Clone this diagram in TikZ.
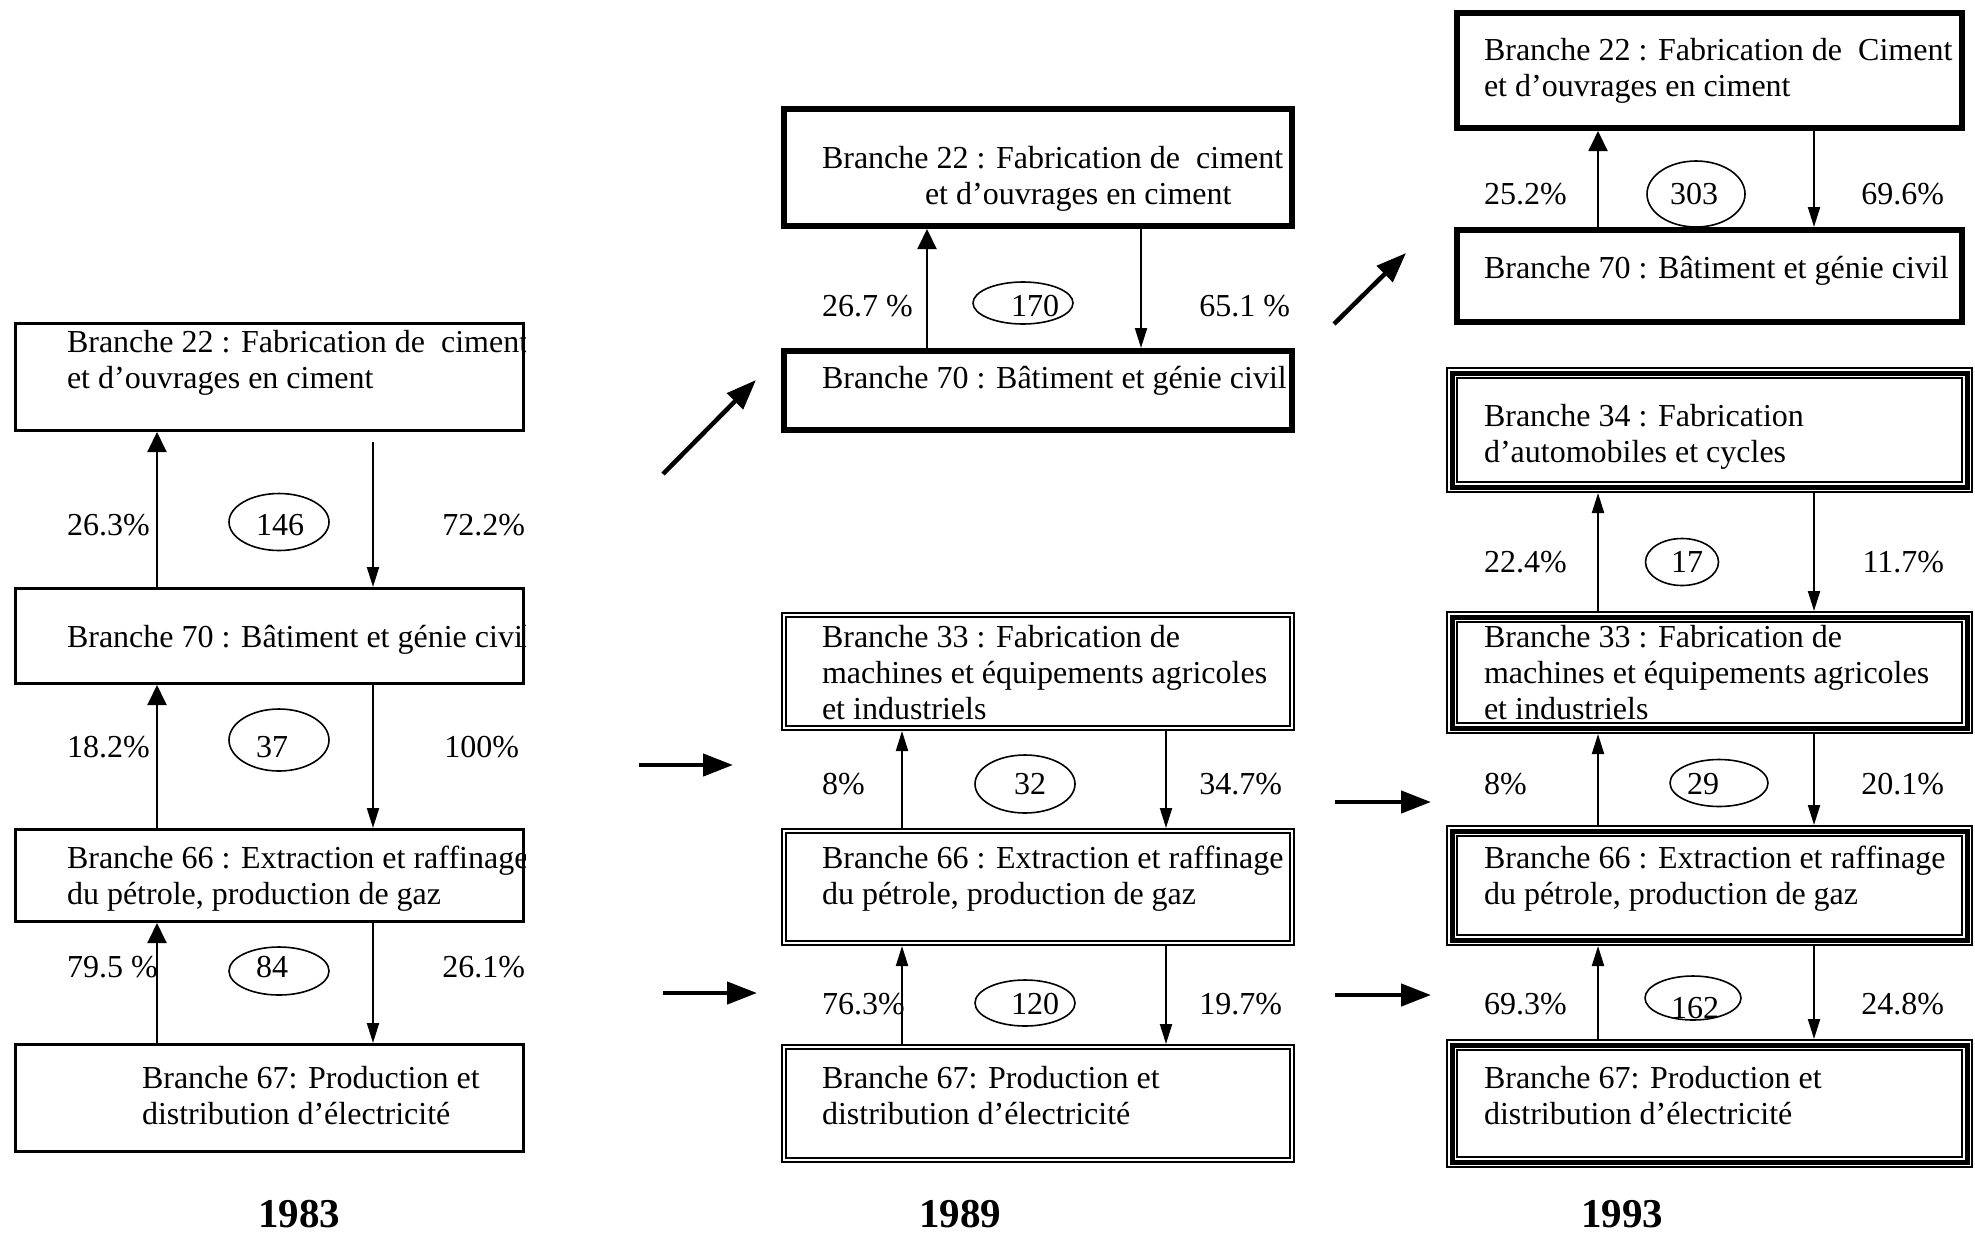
\documentclass[tikz,border=0pt]{standalone}
\usepackage{fontspec}
\setmainfont{Liberation Serif}
\usetikzlibrary{arrows.meta,shapes.geometric}
\begin{document}
\begin{tikzpicture}[x=1pt,y=-1pt,
  every node/.style={inner sep=0pt,outer sep=0pt},
  body/.style={font=\fontsize{32}{36}\selectfont},
  % multi-line texts are placed by the baseline of their last line
  boxtext/.style={body,anchor=base west,align=left},
  pcl/.style={body,anchor=base west},
  pcr/.style={body,anchor=base east},
  count/.style={body,anchor=base},
  sz/.style 2 args={minimum width=#1pt,minimum height=#2pt},
  oval/.style={draw,ellipse,line width=1.6pt},
  plainbox/.style={draw,rectangle,line width=3pt,outer sep=1.5pt},
  heavybox/.style={draw,rectangle,line width=6pt,outer sep=3pt},
  twinbox/.style={draw,rectangle,line width=2pt,double,double distance=2pt,outer sep=3pt},
  triplebox/.style={draw,rectangle,line width=12pt,outer sep=6pt,
    postaction={draw=white,line width=8.5pt},
    postaction={draw=black,line width=5pt}},
  link/.style={line width=2pt,-{Triangle[length=20pt,width=12pt]}},
  linkwide/.style={line width=2pt,-{Triangle[length=20pt,width=19pt]}},
  jump/.style={line width=4.5pt,-{Triangle[length=30pt,width=22pt]}},
  yearlabel/.style={anchor=base,font=\bfseries\fontsize{41}{48}\selectfont}]

\useasboundingbox[fill=white] (0,0) rectangle (1975,1232);

% ---------------- 1983 ----------------
\node[plainbox,sz={508}{107}] (a22) at (269.5,377) {};
\node[plainbox,sz={508}{95}]  (a70) at (269.5,636) {};
\node[plainbox,sz={508}{92}]  (a66) at (269.5,875.5) {};
\node[plainbox,sz={508}{107}] (a67) at (269.5,1098) {};
\begin{scope}
  \clip (a22.north west) rectangle (a22.south east)
        (a70.north west) rectangle (a70.south east)
        (a66.north west) rectangle (a66.south east);
  \node[boxtext] (a22t) at (67,388) {Branche 22 : Fabrication de~~ciment\\et d’ouvrages en ciment};
  \node[boxtext] (a70t) at (67,647) {Branche 70 : Bâtiment et génie civil};
  \node[boxtext] (a66t) at (67,904) {Branche 66 : Extraction et raffinage\\du pétrole, production de gaz};
\end{scope}
\node[boxtext] (a67t) at (142,1124) {Branche 67: Production et\\distribution d’électricité};

\coordinate (a22drop) at (373,442);
\draw[linkwide] (157,0 |- a70.north) -- (157,0 |- a22.south);
\draw[link] (a22drop) -- (a22drop |- a70.north);
\draw[linkwide] (157,0 |- a66.north) -- (157,0 |- a70.south);
\draw[link] (373,0 |- a70.south) -- (373,0 |- a66.north);
\draw[linkwide] (157,0 |- a67.north) -- (157,0 |- a66.south);
\draw[link] (373,0 |- a66.south) -- (373,0 |- a67.north);

\node[pcl] (a1l) at (67,535) {26.3\%};
\node[oval,sz={100}{57}] (a1e) at (279,522) {};
\node[count] (a1n) at (280,535) {146};
\node[pcr] (a1r) at (525,535) {72.2\%};

\node[pcl] (a2l) at (67,757) {18.2\%};
\node[oval,sz={100}{62}] (a2e) at (279,740) {};
\node[count] (a2n) at (272,757) {37};
\node[pcr] (a2r) at (519,757) {100\%};

\node[pcl] (a3l) at (67,977) {79.5 \%};
\node[oval,sz={100}{48}] (a3e) at (279,971) {};
\node[count] (a3n) at (272,977) {84};
\node[pcr] (a3r) at (525,977) {26.1\%};

\node[yearlabel] (y83) at (299,1227) {1983};

% ---------------- 1989 ----------------
\node[heavybox,sz={508}{117}] (b22) at (1038,167.5) {};
\node[heavybox,sz={508}{79}]  (b70) at (1038,390.5) {};
\node[twinbox,sz={508}{113}]  (b33) at (1038,671.5) {};
\node[twinbox,sz={508}{112}]  (b66) at (1038,887) {};
\node[twinbox,sz={508}{113}]  (b67) at (1038,1103.5) {};

\node[boxtext] (b22t) at (822,204) {Branche 22 : Fabrication de~~ciment\\\hspace*{103pt}et d’ouvrages en ciment};
\node[boxtext] (b70t) at (822,388) {Branche 70 : Bâtiment et génie civil};
\node[boxtext] (b33t) at (822,719) {Branche 33 : Fabrication de\\machines et équipements agricoles\\et industriels};
\node[boxtext] (b66t) at (822,904) {Branche 66 : Extraction et raffinage\\du pétrole, production de gaz};
\node[boxtext] (b67t) at (822,1124) {Branche 67: Production et\\distribution d’électricité};

\draw[linkwide] (927,0 |- b70.north) -- (927,0 |- b22.south);
\draw[link] (1141,0 |- b22.south) -- (1141,0 |- b70.north);
\draw[link] (902,0 |- b66.north) -- (902,0 |- b33.south);
\draw[link] (1166,0 |- b33.south) -- (1166,0 |- b66.north);
\draw[link] (902,0 |- b67.north) -- (902,0 |- b66.south);
\draw[link] (1166,0 |- b66.south) -- (1166,0 |- b67.north);

\node[pcl] (b1l) at (822,316) {26.7 \%};
\node[oval,sz={100}{42}] (b1e) at (1023,303) {};
\node[count] (b1n) at (1035,316) {170};
\node[pcr] (b1r) at (1290,316) {65.1 \%};

\node[pcl] (b2l) at (822,794) {8\%};
\node[oval,sz={100}{58}] (b2e) at (1025,784) {};
\node[count] (b2n) at (1030,794) {32};
\node[pcr] (b2r) at (1282,794) {34.7\%};

\node[pcl] (b3l) at (822,1014) {76.3\%};
\node[oval,sz={100}{46}] (b3e) at (1025,1003) {};
\node[count] (b3n) at (1035,1014) {120};
\node[pcr] (b3r) at (1282,1014) {19.7\%};

\node[yearlabel] (y89) at (960,1227) {1989};

% ---------------- 1993 ----------------
\node[heavybox,sz={505}{115}]  (c22) at (1709.5,70.5) {};
\node[heavybox,sz={505}{92}]   (c70) at (1709.5,276) {};
\node[triplebox,sz={515}{114}] (c34) at (1709.5,430) {};
\node[triplebox,sz={515}{111}] (c33) at (1709.5,672.5) {};
\node[triplebox,sz={515}{109}] (c66) at (1709.5,885.5) {};
\node[triplebox,sz={515}{117}] (c67) at (1709.5,1103.5) {};

\node[boxtext] (c22t) at (1484,96) {Branche 22 : Fabrication de~~Ciment\\et d’ouvrages en ciment};
\node[boxtext] (c70t) at (1484,278) {Branche 70 : Bâtiment et génie civil};
\node[boxtext] (c34t) at (1484,462) {Branche 34 : Fabrication\\d’automobiles et cycles};
\node[boxtext] (c33t) at (1484,719) {Branche 33 : Fabrication de\\machines et équipements agricoles\\et industriels};
\node[boxtext] (c66t) at (1484,904) {Branche 66 : Extraction et raffinage\\du pétrole, production de gaz};
\node[boxtext] (c67t) at (1484,1124) {Branche 67: Production et\\distribution d’électricité};

\draw[linkwide] (1598,0 |- c70.north) -- (1598,0 |- c22.south);
\draw[link] (1814,0 |- c22.south) -- (1814,0 |- c70.north);
\draw[link] (1598,0 |- c33.north) -- (1598,0 |- c34.south);
\draw[link] (1814,0 |- c34.south) -- (1814,0 |- c33.north);
\draw[link] (1598,0 |- c66.north) -- (1598,0 |- c33.south);
\draw[link] (1814,0 |- c33.south) -- (1814,0 |- c66.north);
\draw[link] (1598,0 |- c67.north) -- (1598,0 |- c66.south);
\draw[link] (1814,0 |- c66.south) -- (1814,0 |- c67.north);

\node[pcl] (c1l) at (1484,204) {25.2\%};
\node[oval,sz={98}{66}] (c1e) at (1696,194) {};
\node[count] (c1n) at (1694,204) {303};
\node[pcr] (c1r) at (1944,204) {69.6\%};

\node[pcl] (c2l) at (1484,572) {22.4\%};
\node[oval,sz={73}{47}] (c2e) at (1682,562) {};
\node[count] (c2n) at (1687,572) {17};
\node[pcr] (c2r) at (1944,572) {11.7\%};

\node[pcl] (c3l) at (1484,794) {8\%};
\node[oval,sz={98}{47}] (c3e) at (1719,783) {};
\node[count] (c3n) at (1703,794) {29};
\node[pcr] (c3r) at (1944,794) {20.1\%};

\node[pcl] (c4l) at (1484,1014) {69.3\%};
\node[oval,sz={96}{44}] (c4e) at (1693,998) {};
\node[count] (c4n) at (1695,1018) {162};
\node[pcr] (c4r) at (1944,1014) {24.8\%};

\node[yearlabel] (y93) at (1622,1227) {1993};

% ---------------- shifts between years ----------------
\coordinate (s1a) at (663,474);  \coordinate (s1b) at (756,380);
\coordinate (s2a) at (639,765);  \coordinate (s2b) at (733,765);
\coordinate (s3a) at (663,993);  \coordinate (s3b) at (757,993);
\coordinate (s4a) at (1334,324); \coordinate (s4b) at (1406,253);
\coordinate (s5a) at (1335,802); \coordinate (s5b) at (1431,802);
\coordinate (s6a) at (1335,995); \coordinate (s6b) at (1431,995);
\draw[jump] (s1a) -- (s1b);
\draw[jump] (s2a) -- (s2b);
\draw[jump] (s3a) -- (s3b);
\draw[jump] (s4a) -- (s4b);
\draw[jump] (s5a) -- (s5b);
\draw[jump] (s6a) -- (s6b);
\end{tikzpicture}
\end{document}
